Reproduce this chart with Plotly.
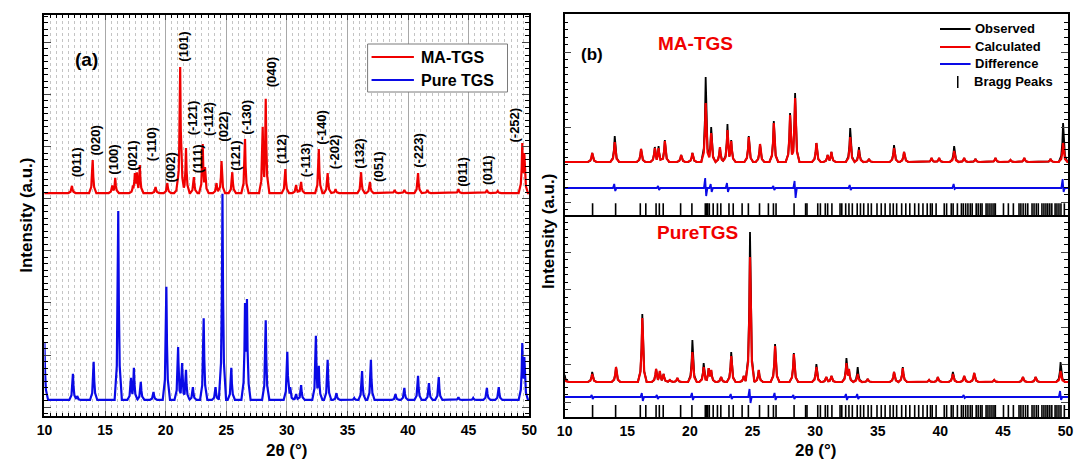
import plotly.graph_objects as go

# ---------------- Panel (a): XRD patterns ----------------
# MA-TGS peaks (2theta, intensity top) on an offset baseline
ma_base = 55.6
ma_pos = [12.27, 13.98, 15.6, 15.84, 17.3, 17.46, 17.63, 17.87, 19.17, 20.14, 21.0, 21.2,
          21.68, 22.33, 23.06, 23.25, 24.2, 24.61, 25.5, 26.55, 28.01, 28.26, 29.88, 30.77,
          31.18, 32.64, 33.37, 34.02, 36.13, 36.86, 38.9, 39.7, 40.83, 41.6, 44.16, 46.51,
          47.4, 49.43, 49.6]
ma_top = [57.4, 63.8, 57.5, 59.4, 57.5, 60.6, 60.8, 62.6, 57.1, 58.1, 59.0, 87.0,
          66.8, 59.6, 67.8, 62.1, 58.1, 63.6, 60.8, 69.1, 72.1, 79.1, 61.6, 57.6,
          58.4, 66.6, 60.6, 56.6, 60.8, 58.4, 56.4, 56.4, 60.6, 56.4, 56.6, 56.4,
          56.1, 68.1, 65.6]

# Pure TGS peaks
pure_base = 4.0
pure_pos = [10.0, 12.35, 12.7, 14.06, 16.09, 17.14, 17.38, 17.95, 19.0, 20.06, 21.03, 21.36,
            21.68, 22.25, 23.14, 24.12, 24.69, 25.42, 26.55, 26.71, 28.26, 30.04, 30.28,
            30.77, 31.18, 32.40, 32.64, 33.37, 34.1, 35.56, 36.21, 36.94, 38.97, 39.70,
            40.83, 41.73, 42.54, 44.16, 45.38, 46.51, 47.49, 49.43, 49.6]
pure_top = [18.2, 10.5, 5.0, 13.5, 51.1, 9.5, 12.0, 8.5, 6.0, 32.2, 17.2, 13.2,
            11.5, 7.2, 24.4, 7.2, 55.4, 12.0, 28.2, 29.2, 23.9, 16.0, 7.2,
            5.5, 7.7, 20.0, 12.5, 14.0, 5.7, 4.5, 11.2, 14.0, 5.5, 7.0,
            10.0, 8.2, 9.7, 4.7, 4.5, 7.0, 7.2, 18.2, 14.7]

# Miller indices annotated above the MA-TGS pattern
hkl_text = ["(011)", "(020)", "(100)", "(021)", "(-110)", "(002)", "(101)", "(-121)", "(111)",
            "(-112)", "(022)", "(121)", "(-130)", "(040)", "(112)", "(-113)", "(-140)",
            "(-202)", "(132)", "(051)", "(-223)", "(011)", "(011)", "(-252)"]
hkl_x = [12.6, 14.2, 15.7, 17.2, 18.8, 20.4, 21.4, 22.2, 22.7, 23.6, 24.8, 25.7, 26.7, 28.8,
         29.6, 31.5, 32.9, 33.9, 36.0, 37.6, 40.8, 44.5, 46.5, 48.8]
hkl_y = [63.3, 68.8, 63.8, 64.8, 67.8, 62.1, 92.0, 74.3, 64.1, 74.1, 72.1, 64.8, 74.6, 85.8,
         66.6, 63.8, 72.1, 65.8, 65.3, 62.1, 66.3, 60.8, 61.3, 72.6]

# ---------------- Panel (b): Rietveld refinement ----------------
# MA-TGS
rma_base = 53.0
rma_pos = [12.2, 14.0, 16.1, 17.2, 17.5, 18.0, 19.3, 20.2, 21.26, 21.7, 22.4, 23.0, 23.3, 24.7,
           25.6, 26.7, 28.0, 28.4, 30.1, 31.0, 31.3, 32.8, 33.5, 34.3, 36.3, 37.1, 39.3, 39.9,
           41.1, 41.9, 42.8, 44.4, 45.6, 46.7, 48.8, 49.8]
rma_obs = [62, 79, 66, 68, 69, 75, 60, 62, 138, 88, 68, 91, 75, 79,
           71, 94, 102, 122, 72, 60, 63, 87, 68, 56, 70, 63, 57, 57,
           69, 57, 56, 57, 55, 57, 56, 92]
rma_calc = [62, 73, 66, 67, 67, 74, 60, 62, 112, 82, 68, 85, 74, 78,
            71, 92, 100, 117, 72, 60, 63, 78, 65, 56, 67, 63, 57, 57,
            64, 57, 56, 57, 55, 57, 56, 72]
rma_diff_base = 27.0
rma_diff_pos = [14.0, 17.5, 21.26, 21.7, 23.0, 26.7, 28.4, 32.8, 41.1, 49.8]
rma_diff_up = [4, 2, 10, 4, 5, 2, 7, 3, 4, 9]
rma_diff_dn = [3, 2, 8, 4, 4, 2, 10, 2, 1, 4]

# Pure TGS
rpt_base = 35.0
rpt_pos = [10.0, 12.2, 14.1, 16.2, 17.3, 17.6, 17.9, 18.4, 19.0, 20.2, 21.1, 21.5, 21.7, 22.5,
           23.3, 24.3, 24.8, 25.5, 26.8, 28.3, 30.1, 30.9, 31.3, 32.5, 32.7, 33.4, 34.2, 36.3,
           37.0, 39.1, 39.8, 41.0, 41.9, 42.7, 44.3, 46.6, 47.6, 49.6]
rpt_obs = [42, 45, 50, 103, 48, 46, 43, 37, 39, 77, 54, 49, 47, 40,
           65, 41, 185, 47, 73, 64, 53, 40, 41, 59, 48, 50, 38, 45,
           50, 37, 40, 45, 41, 44, 37, 40, 40, 55]
rpt_calc = [38, 43, 50, 99, 48, 46, 43, 37, 39, 65, 50, 49, 47, 40,
            61, 41, 160, 47, 71, 63, 50, 40, 41, 54, 48, 43, 38, 45,
            49, 37, 40, 43, 41, 44, 37, 40, 40, 46]
rpt_diff_base = 20.0
rpt_diff_pos = [12.2, 16.2, 17.4, 20.2, 23.3, 24.8, 26.8, 28.3, 32.5, 33.4, 41.9, 49.6]
rpt_diff_up = [2, 4, 2, 4, 3, 8, 4, 2, 3, 3, 2, 6]
rpt_diff_dn = [2, 4, 2, 3, 2, 6, 3, 2, 3, 2, 1, 3]

# Bragg reflection positions of the TGS phase
bragg_pos = [12.23, 14.07, 16.04, 16.48, 17.30, 17.56, 17.87, 19.26, 20.16, 21.23, 21.34, 21.42,
             21.55, 21.86, 22.2, 22.47, 23.12, 23.46, 24.17, 24.67, 25.56, 26.27, 26.67, 26.88,
             28.32, 29.24, 29.35, 30.21, 30.42, 30.81, 31.0, 31.34, 31.99, 32.13, 32.44, 32.70,
             32.97, 33.36, 33.62, 33.88, 34.23, 34.49, 34.94, 35.28, 35.59, 35.98, 36.24, 36.51,
             36.91, 37.24, 37.56, 37.95, 38.27, 38.61, 38.95, 39.21, 39.35, 39.66, 40.31, 40.50,
             40.87, 41.02, 41.36, 41.68, 41.83, 42.02, 42.20, 42.39, 42.54, 42.86, 43.02, 43.20,
             43.33, 43.65, 43.80, 43.96, 44.12, 44.28, 44.39, 45.04, 45.43, 45.83, 46.28, 46.43,
             46.61, 46.80, 46.98, 47.32, 47.48, 47.66, 47.82, 48.11, 48.27, 48.43, 48.58, 48.74,
             48.90, 49.16, 49.31, 49.47, 49.63, 49.90]

RED = "#f00000"
BLUE = "#0a0ae6"
FONT = "Liberation Sans"
W, H = 1083, 460

# Peak outline: distance from apex (deg) -> fraction of peak height
SHAPE_A = ([0.0, 0.05, 0.12, 0.3], [1.0, 0.5, 0.18, 0.0])
SHAPE_B = ([0.0, 0.06, 0.15, 0.35], [1.0, 0.5, 0.16, 0.0])


def frac(d, shape):
    ds, fs = shape
    d = abs(d)
    if d >= ds[-1]:
        return 0.0
    for k in range(len(ds) - 1):
        if ds[k] <= d <= ds[k + 1]:
            t = (d - ds[k]) / (ds[k + 1] - ds[k])
            return fs[k] + t * (fs[k + 1] - fs[k])
    return 0.0


def peak_line(pos, top, base, shape, lo=9.8, hi=50.4):
    """Outline of the pattern: vertices at each peak's apex and flanks, taking the
    upper envelope where neighbouring peaks overlap."""
    offs = shape[0]
    xs = {lo, hi}
    for p in pos:
        for o in offs:
            xs.add(round(p - o, 4))
            xs.add(round(p + o, 4))
    xs = sorted(x for x in xs if lo <= x <= hi)
    ys = []
    for x in xs:
        y = base
        for p, t in zip(pos, top):
            y = max(y, base + (t - base) * frac(x - p, shape))
        ys.append(y)
    return xs, ys


def diff_line(pos, up, dn, base, lo=9.8, hi=50.4):
    xs, ys = [lo], [base]
    for p, u, d in zip(pos, up, dn):
        xs += [p - 0.14, p - 0.04, p + 0.04, p + 0.14]
        ys += [base, base + u, base - d, base]
    xs.append(hi); ys.append(base)
    return xs, ys


def px_x(px):
    return px / W


def px_y(py):
    return 1 - py / H


fig = go.Figure()

# Panel (a) curves
bx, by = peak_line(pure_pos, pure_top, pure_base, SHAPE_A)
fig.add_trace(go.Scatter(x=bx, y=by, mode="lines", name="Pure TGS",
                         line=dict(color=BLUE, width=2.2), xaxis="x", yaxis="y"))
rx, ry = peak_line(ma_pos, ma_top, ma_base, SHAPE_A)
fig.add_trace(go.Scatter(x=rx, y=ry, mode="lines", name="MA-TGS",
                         line=dict(color=RED, width=2.2), xaxis="x", yaxis="y"))

# Panel (b) curves
for (pos, obs, calc, base, dpos, dup, ddn, dbase, ya, bragg_y, bragg_size) in [
    (rma_pos, rma_obs, rma_calc, rma_base, rma_diff_pos, rma_diff_up, rma_diff_dn,
     rma_diff_base, "y2", 5.5, 9),
    (rpt_pos, rpt_obs, rpt_calc, rpt_base, rpt_diff_pos, rpt_diff_up, rpt_diff_dn,
     rpt_diff_base, "y3", 5.0, 10),
]:
    xa = "x2" if ya == "y2" else "x3"
    ox, oy = peak_line(pos, obs, base, SHAPE_B)
    fig.add_trace(go.Scatter(x=ox, y=oy, mode="lines", name="Observed",
                             line=dict(color="black", width=1.8), xaxis=xa, yaxis=ya))
    cx, cy = peak_line(pos, calc, base, SHAPE_B)
    fig.add_trace(go.Scatter(x=cx, y=cy, mode="lines", name="Calculated",
                             line=dict(color=RED, width=2.2), xaxis=xa, yaxis=ya))
    dx, dy = diff_line(dpos, dup, ddn, dbase)
    fig.add_trace(go.Scatter(x=dx, y=dy, mode="lines", name="Difference",
                             line=dict(color=BLUE, width=1.8), xaxis=xa, yaxis=ya))
    fig.add_trace(go.Scatter(x=bragg_pos, y=[bragg_y] * len(bragg_pos), mode="markers",
                             name="Bragg Peaks", xaxis=xa, yaxis=ya,
                             marker=dict(symbol="line-ns", size=bragg_size,
                                         line=dict(width=1.6, color="black"))))

bold = dict(family=FONT, size=14, color="black", weight="bold")

frame = dict(showline=True, linecolor="black", linewidth=1.5, zeroline=False)

fig.update_layout(
    width=W, height=H, margin=dict(l=0, r=0, t=0, b=0),
    paper_bgcolor="white", plot_bgcolor="white", showlegend=False,
    font=dict(family=FONT, color="black"),
    xaxis=dict(domain=[px_x(37), px_x(529)], range=[10, 50], anchor="y",
               mirror="allticks", ticks="inside", ticklen=5, tickwidth=1,
               tick0=10, dtick=5, tickfont=bold,
               showgrid=True, gridcolor="#a8a8a8", gridwidth=1,
               minor=dict(dtick=0.5, ticks="inside", ticklen=3.5, tickcolor="black",
                          showgrid=True, gridcolor="#c4c4c4", griddash="dot", gridwidth=1),
               **frame),
    yaxis=dict(domain=[px_y(416), px_y(15)], range=[0, 100], anchor="x",
               mirror="allticks", ticks="inside", ticklen=7, tick0=2.2, dtick=13,
               showticklabels=False, showgrid=False,
               minor=dict(tick0=2.2, dtick=1.625, ticks="inside", ticklen=4, tickcolor="black"),
               **frame),
    xaxis2=dict(domain=[px_x(565), px_x(1076)], range=[10, 50.2], anchor="y2",
                matches="x3", ticks="", showticklabels=False, showgrid=False,
                mirror=True, **frame),
    yaxis2=dict(domain=[px_y(215), px_y(14)], range=[0, 201], anchor="x2",
                mirror="allticks", ticks="inside", ticklen=7, tick0=13, dtick=75,
                showticklabels=False, showgrid=False,
                minor=dict(tick0=13, dtick=7.5, ticks="inside", ticklen=4, tickcolor="black"),
                **frame),
    xaxis3=dict(domain=[px_x(565), px_x(1076)], range=[10, 50.2], anchor="y3",
                ticks="", tick0=10, dtick=5, tickfont=bold, showgrid=False,
                mirror=False, **frame),
    yaxis3=dict(domain=[px_y(417), px_y(215)], range=[0, 202], anchor="x3",
                mirror="allticks", ticks="inside", ticklen=7, tick0=15, dtick=37.5,
                showticklabels=False, showgrid=False,
                minor=dict(tick0=15, dtick=7.5, ticks="inside", ticklen=4, tickcolor="black"),
                **frame),
)

ann = []
# Miller index labels, rotated
for t, x, y in zip(hkl_text, hkl_x, hkl_y):
    ann.append(dict(text=t, x=x, y=y, xref="x", yref="y", textangle=-90, showarrow=False,
                    xanchor="center", yanchor="middle",
                    font=dict(family=FONT, size=13, color="black", weight="bold")))

# Axis titles
for x, y in [(18, 215), (548, 231)]:
    ann.append(dict(text="Intensity (a.u.)", x=px_x(x), y=px_y(y), xref="paper", yref="paper",
                    textangle=-90, showarrow=False, xanchor="center", yanchor="middle",
                    font=dict(family=FONT, size=17, color="black", weight="bold")))
for x in [283, 820]:
    ann.append(dict(text="2θ (°)", x=px_x(x), y=px_y(450), xref="paper", yref="paper",
                    showarrow=False, xanchor="center", yanchor="middle",
                    font=dict(family=FONT, size=17, color="black", weight="bold")))

# Panel tags and sample names
ann.append(dict(text="(a)", x=px_x(66), y=px_y(47), xref="paper", yref="paper", showarrow=False,
                font=dict(family=FONT, size=19, color="black", weight="bold")))
ann.append(dict(text="(b)", x=px_x(593), y=px_y(43), xref="paper", yref="paper", showarrow=False,
                font=dict(family=FONT, size=17, color="black", weight="bold")))
ann.append(dict(text="MA-TGS", x=px_x(698), y=px_y(31), xref="paper", yref="paper",
                showarrow=False, font=dict(family=FONT, size=19, color=RED, weight="bold")))
ann.append(dict(text="PureTGS", x=px_x(700), y=px_y(232), xref="paper", yref="paper",
                showarrow=False, font=dict(family=FONT, size=19, color=RED, weight="bold")))

shapes = []
# Legend of panel (a)
shapes.append(dict(type="rect", xref="paper", yref="paper", x0=px_x(365), x1=px_x(507),
                   y0=px_y(92), y1=px_y(44), line=dict(color="#7a7a7a", width=1),
                   fillcolor="white", layer="above"))
for name, col, yy in [("MA-TGS", RED, 57), ("Pure TGS", BLUE, 80)]:
    shapes.append(dict(type="line", xref="paper", yref="paper", x0=px_x(369), x1=px_x(412),
                       y0=px_y(yy), y1=px_y(yy), line=dict(color=col, width=2.2)))
    ann.append(dict(text=name, x=px_x(417), y=px_y(yy), xref="paper", yref="paper",
                    xanchor="left", yanchor="middle", showarrow=False,
                    font=dict(family=FONT, size=16, color="black", weight="bold")))

# Legend of panel (b)
for name, col, yy in [("Observed", "black", 29), ("Calculated", RED, 47), ("Difference", BLUE, 64)]:
    shapes.append(dict(type="line", xref="paper", yref="paper", x0=px_x(946), x1=px_x(977),
                       y0=px_y(yy), y1=px_y(yy), line=dict(color=col, width=2)))
    ann.append(dict(text=name, x=px_x(979), y=px_y(yy), xref="paper", yref="paper",
                    xanchor="left", yanchor="middle", showarrow=False,
                    font=dict(family=FONT, size=13, color="black", weight="bold")))
shapes.append(dict(type="line", xref="paper", yref="paper", x0=px_x(964), x1=px_x(964),
                   y0=px_y(88), y1=px_y(76), line=dict(color="black", width=1.5)))
ann.append(dict(text="Bragg Peaks", x=px_x(978), y=px_y(82), xref="paper", yref="paper",
                xanchor="left", yanchor="middle", showarrow=False,
                font=dict(family=FONT, size=13, color="black", weight="bold")))

fig.update_layout(annotations=ann, shapes=shapes)
fig.write_html("out.html")
